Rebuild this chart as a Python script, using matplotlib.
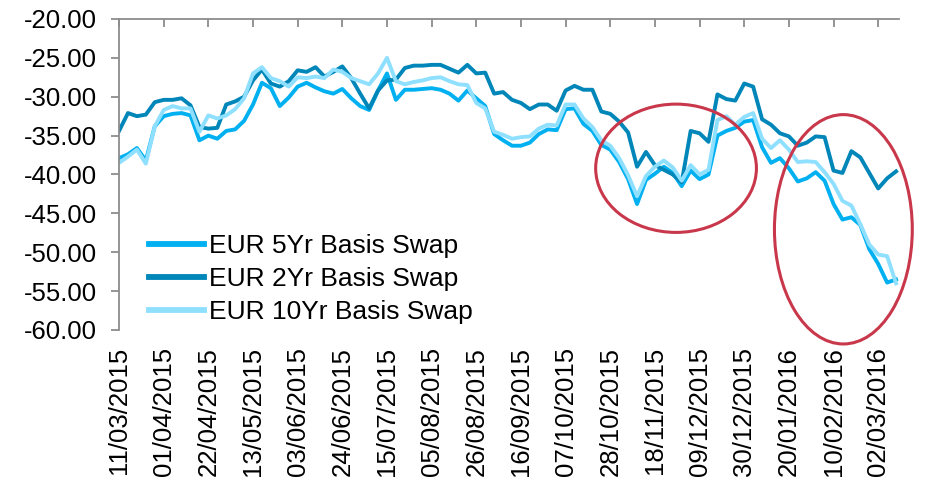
import numpy as np
import pandas as pd
import matplotlib
matplotlib.use("Agg")
import matplotlib.pyplot as plt
from matplotlib.patches import Ellipse

plt.rcParams['font.family'] = ['Liberation Sans', 'DejaVu Sans']

# ---- data (business-day series, sampled every 3 business days) ----
start_date = '2015-03-11'
n_bdays = 263
sample_step = 3
label_step = 15

swap_5y = [-37.9, -37.4, -36.6, -38.2, -33.8, -32.5, -32.2, -32.1, -32.4, -35.6,
           -35.0, -35.4, -34.4, -34.2, -33.1, -31.0, -28.2, -28.9, -31.2, -30.1,
           -28.7, -28.2, -28.8, -29.3, -29.6, -29.0, -30.2, -31.2, -31.7, -29.2,
           -27.0, -30.4, -29.1, -29.1, -29.0, -28.9, -29.1, -29.6, -30.5, -29.2,
           -30.2, -31.2, -34.8, -35.6, -36.3, -36.3, -35.9, -34.8, -34.2, -34.3,
           -31.6, -31.5, -33.5, -34.4, -36.2, -36.8, -38.4, -40.6, -43.8, -40.7,
           -39.9, -39.0, -39.8, -41.5, -39.5, -40.6, -40.0, -35.0, -34.4, -34.0,
           -33.2, -33.0, -36.5, -38.5, -37.9, -39.2, -40.9, -40.5, -39.7, -40.8,
           -43.8, -45.8, -45.5, -46.5, -49.6, -51.5, -53.9, -53.5]

swap_2y = [-34.4, -32.1, -32.5, -32.3, -30.7, -30.4, -30.4, -30.2, -31.1, -33.9,
           -34.1, -34.0, -31.0, -30.6, -30.0, -27.9, -26.5, -28.3, -28.7, -28.0,
           -26.6, -26.8, -26.2, -27.4, -26.8, -26.1, -27.6, -29.6, -31.5, -29.2,
           -27.9, -27.8, -26.3, -26.0, -26.0, -25.9, -25.9, -26.4, -26.9, -25.9,
           -27.0, -26.9, -29.6, -29.4, -30.4, -30.8, -31.6, -31.0, -31.0, -31.8,
           -29.2, -28.6, -29.1, -29.1, -31.9, -32.2, -33.2, -34.6, -39.0, -37.1,
           -38.8, -39.4, -40.0, -41.0, -34.4, -34.7, -35.8, -29.7, -30.3, -30.5,
           -28.3, -28.7, -32.9, -33.6, -34.7, -35.1, -36.3, -35.9, -35.1, -35.2,
           -39.5, -39.8, -37.0, -37.8, -39.8, -41.8, -40.5, -39.6]

swap_10y = [-38.5, -37.7, -36.8, -38.6, -33.8, -31.7, -31.2, -31.5, -31.5, -34.5,
            -32.4, -32.8, -32.4, -31.6, -30.2, -27.0, -26.2, -27.6, -28.0, -28.7,
            -27.5, -27.6, -27.4, -27.6, -26.5, -26.8, -27.6, -28.0, -28.4, -27.0,
            -25.0, -28.0, -28.4, -28.1, -27.9, -27.6, -27.5, -28.0, -28.4, -28.5,
            -30.8, -31.5, -34.5, -34.9, -35.4, -35.2, -35.1, -34.1, -33.6, -33.7,
            -31.0, -31.0, -32.8, -33.9, -35.6, -36.3, -37.9, -40.1, -42.8, -40.2,
            -39.0, -38.2, -39.1, -40.8, -38.8, -40.0, -39.4, -33.0, -32.5, -33.6,
            -32.6, -32.1, -35.4, -36.6, -35.6, -36.8, -38.4, -38.3, -38.4, -39.7,
            -41.2, -43.4, -44.0, -46.4, -49.0, -50.3, -50.5, -54.0]

series_names = ['EUR 5Yr Basis Swap', 'EUR 2Yr Basis Swap', 'EUR 10Yr Basis Swap']
series_colors = ['#00B0F0', '#0086B8', '#8FDFFF']

# highlighted regions: (center index, center value, width in bdays, height in bp)
highlights = [(187.1, -39.2, 54.0, 16.5), (243.3, -47.05, 46.3, 29.5)]

# ---- build ----
dates = pd.bdate_range(start_date, periods=n_bdays)
x_idx = np.arange(0, n_bdays - 1, sample_step)
tick_idx = np.arange(0, n_bdays - 1, label_step)
tick_labels = [dates[i].strftime('%d/%m/%Y') for i in tick_idx]

fig = plt.figure(figsize=(9.3, 4.82), dpi=100)
ax = fig.add_axes([0.128, 0.3154, 0.8387, 0.6452])

for vals, name, col in zip([swap_5y, swap_2y, swap_10y], series_names, series_colors):
    ax.plot(x_idx, vals, color=col, lw=2.8, label=name, solid_joinstyle='round')

for cx, cy, w, h in highlights:
    ax.add_patch(Ellipse((cx, cy), w, h, fill=False, edgecolor='#C9374B',
                         lw=2.2, clip_on=False, zorder=5))

ax.set_xlim(0, n_bdays - 1)
ax.set_ylim(-60, -20)
ax.set_yticks(np.arange(-60, -19, 5))
ax.set_yticklabels([f'{v:.2f}' for v in np.arange(-60, -19, 5)])
ax.set_xticks(tick_idx)
ax.set_xticklabels(tick_labels, rotation=90)

spine_col = '#8C8C8C'
for s in ['right', 'bottom']:
    ax.spines[s].set_visible(False)
for s in ['left', 'top']:
    ax.spines[s].set_color(spine_col)
    ax.spines[s].set_linewidth(1.3)

ax.tick_params(axis='y', direction='out', length=6, width=1.3, color=spine_col,
               labelsize=18.5, pad=10, labelcolor='black')
ax.tick_params(axis='x', top=True, bottom=False, labeltop=False, labelbottom=True,
               direction='in', length=6, width=1.3, color=spine_col,
               labelsize=18.5, pad=12, labelcolor='black')

leg = ax.legend(loc='lower left', bbox_to_anchor=(0.038, 0.02), frameon=False,
                fontsize=19, handlelength=2.1, handletextpad=0.2,
                labelspacing=0.33, borderpad=0, borderaxespad=0)
for line in leg.get_lines():
    line.set_linewidth(4.2)

fig.savefig('out.png', dpi=100)
